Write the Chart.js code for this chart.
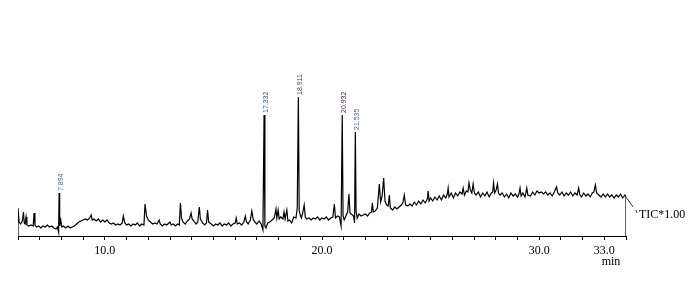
<!DOCTYPE html>
<html>
<head>
<meta charset="utf-8">
<script src="https://cdn.jsdelivr.net/npm/chart.js@4/dist/chart.umd.min.js"></script>
<style>
html,body{margin:0;padding:0;background:#fff;}
#wrap{width:690px;height:284px;position:relative;}
</style>
</head>
<body>
<div id="wrap"><canvas id="c" width="690" height="284"></canvas></div>
<script>
// Retention time (min)
const times = [
6.00,6.00,6.05,6.12,6.20,6.25,6.29,6.33,6.37,6.41,6.50,6.60,6.70,6.74,6.78,6.85,6.95,7.05,7.15,7.25,7.35,7.45,7.55,7.65,7.75,7.82,7.87,7.894,7.92,7.97,
8.02,8.10,8.20,8.30,8.40,8.50,8.60,8.70,8.80,8.90,9.00,9.10,9.20,9.30,9.37,9.42,9.50,9.60,9.70,9.80,9.90,10.00,10.10,10.20,10.30,10.40,10.50,10.60,10.70,10.80,
10.85,10.92,11.00,11.10,11.20,11.30,11.40,11.50,11.60,11.70,11.80,11.85,11.92,12.00,12.10,12.20,12.30,12.40,12.50,12.55,12.65,12.75,12.85,12.95,13.00,13.05,13.15,13.25,13.35,13.43,
13.48,13.53,13.60,13.70,13.80,13.90,13.97,14.02,14.10,14.20,14.28,14.35,14.40,14.50,14.60,14.68,14.73,14.78,14.90,15.00,15.10,15.20,15.30,15.40,15.50,15.60,15.70,15.80,15.90,16.00,
16.05,16.10,16.20,16.30,16.40,16.47,16.52,16.60,16.70,16.77,16.83,16.90,17.00,17.10,17.20,17.28,17.332,17.37,17.42,17.50,17.60,17.70,17.80,17.88,17.92,17.98,18.03,18.10,18.20,18.25,
18.30,18.38,18.43,18.50,18.60,18.70,18.80,18.86,18.911,18.95,19.00,19.05,19.10,19.18,19.23,19.30,19.40,19.50,19.60,19.70,19.80,19.90,20.00,20.10,20.20,20.30,20.40,20.50,20.57,20.62,
20.72,20.80,20.88,20.932,20.97,21.02,21.10,21.18,21.24,21.29,21.35,21.45,21.50,21.535,21.57,21.62,21.70,21.80,21.90,22.00,22.10,22.20,22.28,22.32,22.36,22.45,22.55,22.64,22.70,22.77,
22.84,22.90,22.98,23.05,23.10,23.15,23.25,23.35,23.45,23.55,23.65,23.72,23.79,23.85,23.95,24.05,24.15,24.25,24.35,24.45,24.55,24.65,24.75,24.85,24.89,24.93,25.00,25.10,25.20,25.30,
25.40,25.50,25.60,25.70,25.77,25.81,25.85,25.95,26.05,26.15,26.25,26.35,26.45,26.50,26.56,26.65,26.72,26.77,26.83,26.90,26.96,27.02,27.10,27.20,27.30,27.40,27.50,27.60,27.70,27.80,
27.86,27.90,27.95,28.02,28.08,28.13,28.20,28.30,28.40,28.50,28.60,28.70,28.80,28.90,29.00,29.07,29.12,29.17,29.25,29.35,29.43,29.48,29.60,29.70,29.80,29.90,30.00,30.10,30.20,30.30,
30.40,30.50,30.60,30.70,30.80,30.86,30.95,31.05,31.15,31.25,31.35,31.45,31.55,31.65,31.75,31.82,31.88,31.95,32.05,32.15,32.25,32.35,32.45,32.52,32.59,32.65,32.75,32.85,32.95,33.05,
33.15,33.25,33.35,33.45,33.55,33.65,33.75,33.85,33.95,34.00,34.00
];
// TIC intensity (relative)
const intensity = [
0,28,14,12,15,24,13,12,19,11,10,11,10,23,11,9,10,8,10,9,11,9,10,8,7,9,4,43,10,16,
9,10,8,10,8,9,10,12,14,15,16,17,16,18,21,16,17,15,17,14,16,14,16,13,12,13,11,12,11,13,
20,13,11,12,10,12,11,13,10,12,11,32,20,16,14,12,13,12,16,12,10,12,11,13,14,11,12,10,12,11,
33,18,14,12,15,17,23,17,15,12,14,29,17,13,11,13,26,14,12,10,12,11,13,10,12,11,13,10,12,13,
18,12,13,11,14,20,14,12,16,25,17,14,12,15,12,6,121,10,8,13,14,16,18,27,18,26,17,19,17,24,
17,26,15,16,13,19,18,28,139,25,21,18,22,31,19,17,18,16,18,17,19,16,18,17,19,16,18,19,32,18,
20,19,10,121,20,16,20,24,42,23,22,20,13,104,25,18,22,20,21,22,20,23,24,33,24,25,28,52,34,40,
58,35,31,30,41,28,26,29,27,29,31,33,41,31,30,32,30,34,31,35,32,36,33,37,45,35,38,35,39,36,
40,36,41,38,42,48,39,43,38,43,40,44,42,48,41,45,44,53,46,43,52,43,41,44,39,43,40,44,39,43,
44,53,43,46,52,43,41,43,39,42,38,43,40,42,39,42,48,40,43,39,48,41,40,44,41,45,43,44,42,44,
41,43,40,44,49,43,41,44,40,43,41,44,40,43,41,48,41,39,43,40,42,39,43,44,51,43,41,39,42,39,
42,39,41,38,41,39,42,38,41,39,0
];
// Labelled peaks
const peakTimes = [7.894, 17.332, 18.911, 20.932, 21.535];
const peakHeights = [43, 121, 139, 121, 104];
const peakLabels = ['7.894', '17.332', '18.911', '20.932', '21.535'];
const peakColors = ['#3c6e9e', '#2358a6', '#3a3f5c', '#4b2d5e', '#36709c'];
// Axis tick labels
const tickLabels = {10: '10.0', 20: '20.0', 30: '30.0', 33: '33.0'};
const axisUnit = 'min';
const traceName = 'TIC*1.00';

const points = times.map((t, i) => ({x: t, y: intensity[i]}));

const overlay = {
  id: 'overlay',
  afterDatasetsDraw(chart) {
    const ctx = chart.ctx, xs = chart.scales.x, ys = chart.scales.y;
    ctx.save();
    // peak labels
    ctx.font = '7px "Liberation Sans", Arial, sans-serif';
    ctx.textAlign = 'left';
    ctx.textBaseline = 'middle';
    peakTimes.forEach((t, i) => {
      const px = xs.getPixelForValue(t) + 1.5;
      const py = ys.getPixelForValue(peakHeights[i]) - 2;
      ctx.save();
      ctx.translate(px, py);
      ctx.rotate(-Math.PI / 2);
      ctx.fillStyle = peakColors[i];
      ctx.fillText(peakLabels[i], 0, 0);
      ctx.restore();
    });
    // trace leader and name
    const ex = xs.getPixelForValue(times[times.length - 1]);
    const ey = ys.getPixelForValue(intensity[intensity.length - 2]);
    ctx.strokeStyle = '#333';
    ctx.lineWidth = 1;
    ctx.beginPath();
    ctx.moveTo(ex, ey);
    ctx.lineTo(ex + 7, ey + 10);
    ctx.stroke();
    ctx.beginPath();
    ctx.moveTo(ex + 10, ey + 13);
    ctx.lineTo(ex + 11, ey + 16);
    ctx.stroke();
    ctx.fillStyle = '#000';
    ctx.font = '12px "Liberation Serif", "Times New Roman", serif';
    ctx.textAlign = 'left';
    ctx.textBaseline = 'middle';
    ctx.fillText(traceName, ex + 13, ey + 18);
    // unit
    ctx.textAlign = 'center';
    ctx.fillText(axisUnit, 611, 262);
    ctx.restore();
  }
};

new Chart(document.getElementById('c'), {
  type: 'line',
  data: {
    datasets: [{
      data: points,
      borderColor: '#000',
      borderWidth: 1.2,
      pointRadius: 0,
      tension: 0,
      fill: false
    }]
  },
  options: {
    responsive: false,
    animation: false,
    devicePixelRatio: 1,
    layout: {padding: {left: 18, right: 64, top: 86, bottom: 0}},
    plugins: {legend: {display: false}, tooltip: {enabled: false}},
    scales: {
      x: {
        type: 'linear',
        min: 6,
        max: 34,
        afterFit: (s) => { s.height = 48; },
        border: {display: true, color: '#000', width: 1},
        grid: {display: true, drawOnChartArea: false, drawTicks: true, tickLength: 4, color: '#000'},
        ticks: {
          stepSize: 1,
          autoSkip: false,
          maxRotation: 0,
          padding: 4,
          color: '#000',
          font: {family: '"Liberation Serif", "Times New Roman", serif', size: 12},
          callback: (v) => tickLabels[v] || ''
        }
      },
      y: {
        display: false,
        min: 0,
        max: 150
      }
    }
  },
  plugins: [overlay]
});
</script>
</body>
</html>
